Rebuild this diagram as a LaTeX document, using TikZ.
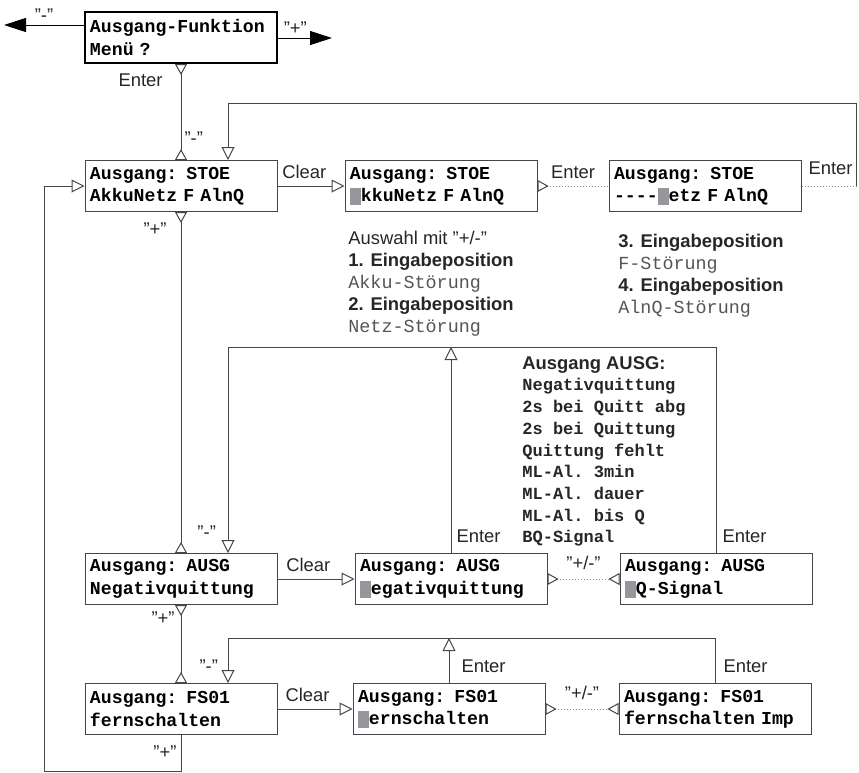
\documentclass[tikz,border=0pt]{standalone}
\usepackage{fontspec}
\setmainfont{Liberation Sans}
\setmonofont{Liberation Mono}
\usepackage{tikz}
\usetikzlibrary{arrows.meta}
\definecolor{LineGray}{RGB}{70, 70, 70}
\definecolor{DotGray}{RGB}{140, 140, 140}
\definecolor{CurGray}{RGB}{150, 150, 156}
\definecolor{NoteGray}{RGB}{85, 85, 85}
\newcommand{\cursorblk}{\textcolor{CurGray}{\rule[-0.2em]{0.6em}{0.92em}}}

\begin{document}
\begin{tikzpicture}[
    x=0.5pt, y=-0.5pt,
    disp/.style={draw=LineGray, line width=0.5pt, minimum width=96pt, minimum height=25.5pt, text width=91pt, inner xsep=2.5pt, inner ysep=1pt, align=left, font=\fontsize{9.1}{11.2}\selectfont\ttfamily\bfseries},
    lbl/.style={font=\fontsize{9.2}{11}\selectfont, text=black!85, inner sep=1.5pt},
    conn/.style={draw=LineGray, line width=0.5pt},
    dots/.style={draw=DotGray, line width=0.5pt, densely dotted},
    Arr/.tip={Triangle[open, length=6.5pt, width=6.5pt, color=LineGray]},
    Dep/.tip={Triangle[open, reversed, length=5.5pt, width=6pt, color=LineGray]}
  ]
    \useasboundingbox (0,0) rectangle (859,773);

    % Menue oben
    \node[disp, draw=black, line width=1pt] (menu) at (181,37.5) {Ausgang-Funktion\\Menü ?};
    \coordinate (mleft) at (4,25);
    \coordinate (mright) at (332,38);
    \draw[conn, draw=black, -{Triangle[length=11pt, width=7pt]}] (menu.west |- mleft) -- node[lbl, above, pos=0.5]{"-"} (mleft);
    \draw[conn, draw=black, -{Triangle[length=11pt, width=7pt]}] (menu.east |- mright) -- node[lbl, above, pos=0.32]{"+"} (mright);

    % Zeile STOE
    \node[disp] (stoeA) at (181,186) {Ausgang: STOE\\AkkuNetz F AlnQ};
    \node[disp] (stoeB) at (441,186) {Ausgang: STOE\\\cursorblk kkuNetz F AlnQ};
    \node[disp] (stoeC) at (705,186) {Ausgang: STOE\\-{}-{}-{}-\cursorblk etz F AlnQ};

    % Zeile AUSG
    \node[disp] (ausgA) at (181,579) {Ausgang: AUSG\\Negativquittung};
    \node[disp] (ausgB) at (451,579) {Ausgang: AUSG\\\cursorblk egativquittung};
    \node[disp] (ausgC) at (716,579) {Ausgang: AUSG\\\cursorblk Q-Signal};

    % Zeile FS01
    \node[disp] (fsA) at (181,709) {Ausgang: FS01\\fernschalten};
    \node[disp] (fsB) at (449,709) {Ausgang: FS01\\\cursorblk ernschalten};
    \node[disp] (fsC) at (715,709) {Ausgang: FS01\\fernschalten Imp};

    % Hinweise
    \node[lbl, align=left, anchor=north west, inner sep=0pt] (hintL) at (348,231) {Auswahl mit "+/-"\\\textbf{1. Eingabeposition}\\{\ttfamily\color{NoteGray}Akku-Störung}\\\textbf{2. Eingabeposition}\\{\ttfamily\color{NoteGray}Netz-Störung}};
    \node[lbl, align=left, anchor=north west, inner sep=0pt] (hintR) at (618,234) {\textbf{3. Eingabeposition}\\{\ttfamily\color{NoteGray}F-Störung}\\\textbf{4. Eingabeposition}\\{\ttfamily\color{NoteGray}AlnQ-Störung}};
    \node[lbl, align=left, anchor=north west, inner sep=0pt, font=\fontsize{9.2}{10.85}\selectfont] (ausgList) at (522,356) {\textbf{Ausgang AUSG:}\\{\ttfamily\bfseries\fontsize{8.5}{10.85}\selectfont Negativquittung}\\{\ttfamily\bfseries\fontsize{8.5}{10.85}\selectfont 2s bei Quitt abg}\\{\ttfamily\bfseries\fontsize{8.5}{10.85}\selectfont 2s bei Quittung}\\{\ttfamily\bfseries\fontsize{8.5}{10.85}\selectfont Quittung fehlt}\\{\ttfamily\bfseries\fontsize{8.5}{10.85}\selectfont ML-Al. 3min}\\{\ttfamily\bfseries\fontsize{8.5}{10.85}\selectfont ML-Al. dauer}\\{\ttfamily\bfseries\fontsize{8.5}{10.85}\selectfont ML-Al. bis Q}\\{\ttfamily\bfseries\fontsize{8.5}{10.85}\selectfont BQ-Signal}};

    % Senkrechte Hauptlinie
    \draw[conn, Dep-Dep] (menu.south) -- node[lbl, pos=0.17, left=7.5pt]{Enter} node[lbl, pos=0.77, right=0pt]{"-"} (stoeA.north);
    \draw[conn, Dep-Dep] (stoeA.south) -- node[lbl, pos=0.05, left=5.5pt]{"+"} node[lbl, pos=0.94, right=6.5pt]{"-"} (ausgA.north);
    \draw[conn, Dep-Dep] (ausgA.south) -- node[lbl, pos=0.17, left=1.5pt]{"+"} node[lbl, pos=0.79, right=7.5pt]{"-"} (fsA.north);

    % Ruecksprung links
    \coordinate (loopBL) at (44,771);
    \draw[conn, -Arr] (fsA.south) -- node[lbl, pos=0.48, left=0.5pt]{"+"} (fsA.south |- loopBL) -- (loopBL) |- (stoeA.west);

    % Clear
    \draw[conn, -Arr] (stoeA.east) -- node[lbl, above=2pt, pos=0.4]{Clear} (stoeB.west);
    \draw[conn, -Arr] (ausgA.east) -- node[lbl, above=2pt, pos=0.4]{Clear} (ausgB.west);
    \draw[conn, -Arr] (fsA.east) -- node[lbl, above=2pt, pos=0.4]{Clear} (fsB.west);

    % Eingabe STOE
    \coordinate (stoeR) at (856,186);
    \coordinate (stoeBar) at (0,103);
    \draw[dots, Dep-] (stoeB.east) -- node[lbl, above=2pt]{Enter} (stoeC.west);
    \draw[dots] (stoeC.east) -- node[lbl, pos=1, anchor=south east, yshift=4pt]{Enter} (stoeR);
    \draw[conn, -Arr] (stoeR) -- (stoeR |- stoeBar) -| ([xshift=23.5pt]stoeA.north);

    % Auswahl AUSG
    \coordinate (ausgBar) at (0,347);
    \draw[dots, Dep-Dep] (ausgB.east) -- node[lbl, above=3pt]{"+/-"} (ausgC.west);
    \draw[conn, -Arr] (ausgB.north) -- node[lbl, pos=0, anchor=south west, yshift=3.5pt, xshift=1pt]{Enter} (ausgB.north |- ausgBar);
    \draw[conn, -Arr] (ausgC.north) -- node[lbl, pos=0, anchor=south west, yshift=3.5pt, xshift=1.5pt]{Enter} (ausgC.north |- ausgBar) -| ([xshift=23.5pt]ausgA.north);

    % Auswahl FS01
    \coordinate (fsBar) at (0,638);
    \draw[dots, Dep-Dep] (fsB.east) -- node[lbl, above=3pt]{"+/-"} (fsC.west);
    \draw[conn, -Arr] (fsB.north) -- node[lbl, pos=0, anchor=south west, yshift=3.2pt, xshift=4.5pt]{Enter} (fsB.north |- fsBar);
    \draw[conn, -Arr] (fsC.north) -- node[lbl, pos=0, anchor=south west, yshift=3.2pt, xshift=2.5pt]{Enter} (fsC.north |- fsBar) -| ([xshift=23.5pt]fsA.north);
\end{tikzpicture}
\end{document}
